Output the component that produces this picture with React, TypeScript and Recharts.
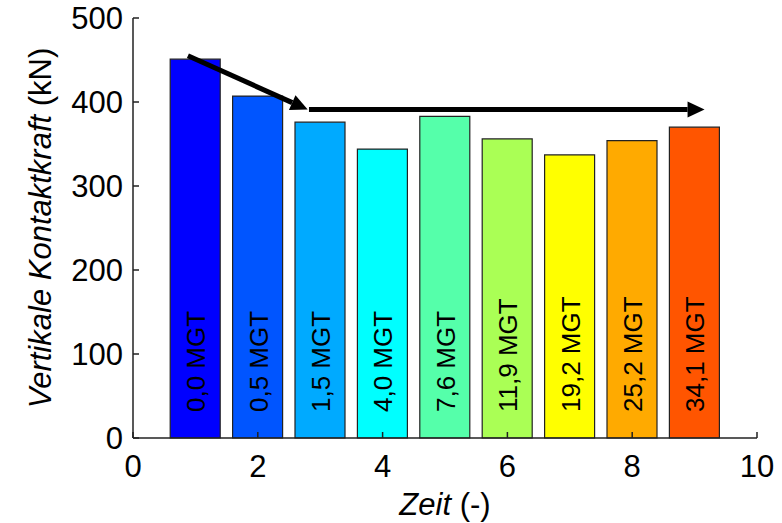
import { BarChart, Bar, XAxis, YAxis, Cell, LabelList, ReferenceLine } from 'recharts';

// Messzeitpunkte (x) und vertikale Kontaktkraft in kN
const zeit = [1, 2, 3, 4, 5, 6, 7, 8, 9];
const kontaktkraft = [451, 407, 376, 344, 383, 356, 337, 354, 370];
const belastung = ['0,0 MGT', '0,5 MGT', '1,5 MGT', '4,0 MGT', '7,6 MGT', '11,9 MGT', '19,2 MGT', '25,2 MGT', '34,1 MGT'];
const farben = ['#0000ff', '#0055ff', '#00aaff', '#00ffff', '#55ffaa', '#aaff55', '#ffff00', '#ffaa00', '#ff5500'];

const xTicks = [0, 2, 4, 6, 8, 10];
const yTicks = [0, 100, 200, 300, 400, 500];

// Pfeile: Abfall, dann Plateau
const pfeil1 = [{ x: 0.88, y: 455 }, { x: 2.8, y: 391 }];
const pfeil2 = [{ x: 2.82, y: 391 }, { x: 9.16, y: 391 }];

const data = zeit.map((t, i) => ({ t, kraft: kontaktkraft[i], label: belastung[i] }));

const FONT = '"Liberation Sans", Arial, sans-serif';
const AXIS = '#222';

const Pfeil = (props: any) => {
  const { x1, y1, x2, y2 } = props;
  const ang = Math.atan2(y2 - y1, x2 - x1);
  const len = 17;
  const half = 8;
  const bx = x2 - len * Math.cos(ang);
  const by = y2 - len * Math.sin(ang);
  const px = -Math.sin(ang) * half;
  const py = Math.cos(ang) * half;
  return (
    <g>
      <line x1={x1} y1={y1} x2={bx} y2={by} stroke="#000" strokeWidth={5} />
      <polygon points={`${x2},${y2} ${bx + px},${by + py} ${bx - px},${by - py}`} fill="#000" />
    </g>
  );
};

const BalkenText = (props: any) => {
  const { x, y, width, height, value } = props;
  const px = x + width / 2 + 10;
  const py = y + height - 26;
  return (
    <text x={px} y={py} transform={`rotate(-90, ${px}, ${py})`} fontSize={26} fontFamily={FONT} fill="#000" textAnchor="start">
      {value}
    </text>
  );
};

const YTitel = (props: any) => {
  const vb = props.viewBox;
  const cx = 40;
  const cy = vb.y + vb.height / 2;
  return (
    <text x={cx} y={cy} transform={`rotate(-90, ${cx}, ${cy})`} textAnchor="middle" dominantBaseline="central" fontSize={31} fontFamily={FONT} fill="#000">
      <tspan fontStyle="italic">Vertikale Kontaktkraft</tspan>
      <tspan> (kN)</tspan>
    </text>
  );
};

const XTitel = (props: any) => {
  const vb = props.viewBox;
  const cx = vb.x + vb.width / 2;
  return (
    <text x={cx} y={515} textAnchor="middle" fontSize={31} fontFamily={FONT} fill="#000">
      <tspan fontStyle="italic">Zeit</tspan>
      <tspan> (-)</tspan>
    </text>
  );
};

export default function App() {
  return (
    <div style={{ position: 'absolute', left: 0, top: 0, background: '#fff' }}>
      <BarChart width={782} height={523} data={data} margin={{ top: 18, right: 25, bottom: 0, left: 0 }}>
        <XAxis
          dataKey="t"
          type="number"
          domain={[0, 10]}
          ticks={xTicks}
          height={85}
          tickSize={-6}
          tickMargin={23}
          stroke={AXIS}
          strokeWidth={1.5}
          tick={{ fill: '#000', fontSize: 31, fontFamily: FONT }}
          label={{ content: <XTitel /> }}
        />
        <XAxis xAxisId="top" orientation="top" type="number" domain={[0, 10]} ticks={xTicks} height={0} tickSize={-6} tick={false} stroke={AXIS} strokeWidth={1.5} />
        <YAxis
          domain={[0, 500]}
          ticks={yTicks}
          width={133}
          tickSize={-6}
          tickMargin={16}
          stroke={AXIS}
          strokeWidth={1.5}
          tick={{ fill: '#000', fontSize: 31, fontFamily: FONT }}
          label={{ content: <YTitel /> }}
        />
        <YAxis yAxisId="right" orientation="right" domain={[0, 500]} ticks={yTicks} width={0} tickSize={-6} tick={false} stroke={AXIS} strokeWidth={1.5} />
        <Bar dataKey="kraft" barSize={50} stroke="#222" strokeWidth={1.2} isAnimationActive={false}>
          {data.map((d, i) => (
            <Cell key={d.t} fill={farben[i]} />
          ))}
          <LabelList dataKey="label" content={<BalkenText />} />
        </Bar>
        <ReferenceLine segment={pfeil1} shape={<Pfeil />} ifOverflow="visible" />
        <ReferenceLine segment={pfeil2} shape={<Pfeil />} ifOverflow="visible" />
      </BarChart>
    </div>
  );
}
